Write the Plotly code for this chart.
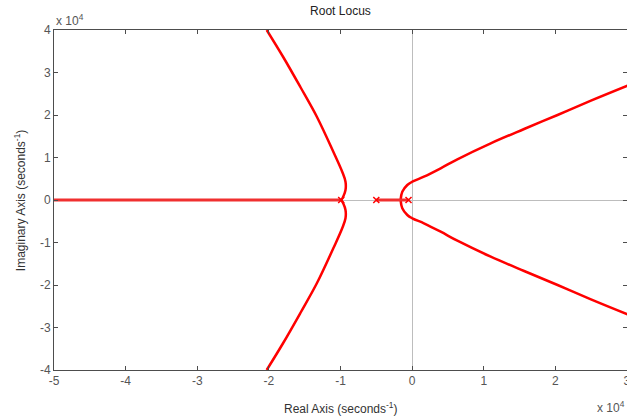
import plotly.graph_objects as go

# Values in units of 1e4 (seconds^-1)
upper_left_re = [-2.03, -1.80, -1.56, -1.33, -1.10, -0.976, -0.930, -0.930, -0.962, -0.99]
upper_left_im = [4.0, 3.365, 2.659, 1.96, 1.136, 0.666, 0.431, 0.235, 0.078, 0.0]

right_re = [-0.161, -0.137, -0.067, 0.003, 0.165, 0.399, 0.632, 1.098, 1.564, 2.031, 2.497, 3.01]
right_im = [0.0, 0.195, 0.353, 0.431, 0.548, 0.746, 0.958, 1.334, 1.671, 2.0, 2.336, 2.69]

real_axis_left = [-5.0, -0.99]
real_axis_mid = [-0.5, -0.05]

poles_re = [-0.99, -0.5, -0.05]
poles_im = [0.0, 0.0, 0.0]

x_ticks = [-5, -4, -3, -2, -1, 0, 1, 2, 3]
x_tick_labels = ["-5", "-4", "-3", "-2", "-1", "0", "1", "2", "3"]
y_ticks = [-4, -3, -2, -1, 0, 1, 2, 3, 4]
y_tick_labels = ["-4", "-3", "-2", "-1", "0", "1", "2", "3", "4"]

RED = "#ff0000"
fig = go.Figure()

def branch(re, im):
    fig.add_trace(go.Scatter(x=re, y=im, mode="lines", line=dict(color=RED, width=2.5, shape="spline"),
                             hoverinfo="skip", showlegend=False))

branch(upper_left_re, upper_left_im)
branch(upper_left_re, [-v for v in upper_left_im])
branch(right_re, right_im)
branch(right_re, [-v for v in right_im])
fig.add_trace(go.Scatter(x=real_axis_left, y=[0, 0], mode="lines", line=dict(color="#f03030", width=3),
                         showlegend=False))
fig.add_trace(go.Scatter(x=real_axis_mid, y=[0, 0], mode="lines", line=dict(color="#f03030", width=3),
                         showlegend=False))
fig.add_trace(go.Scatter(x=poles_re, y=poles_im, mode="markers",
                         marker=dict(symbol="x-thin", size=6, line=dict(color=RED, width=1.5)),
                         showlegend=False))

axis_common = dict(showgrid=False, showline=True, linecolor="#4d4d4d", linewidth=1, mirror="ticks",
                   ticks="inside", ticklen=4, tickcolor="#4d4d4d", automargin=False,
                   ticklabeloverflow="allow",
                   tickfont=dict(family="Liberation Sans, Arial", size=12, color="#555555"),
                   zeroline=True, zerolinecolor="#bdbdbd", zerolinewidth=1)

fig.update_layout(
    width=627, height=419,
    margin=dict(l=54, r=0, t=30, b=49),
    plot_bgcolor="white", paper_bgcolor="white",
    font=dict(family="Liberation Sans, Arial", size=12, color="#333333"),
    title=dict(text="Root Locus", x=0.543, xanchor="center", y=0.985, yanchor="top",
               automargin=False, font=dict(size=12, color="#222222")),
    xaxis=dict(range=[-5, 3.0005], tickvals=x_ticks, ticktext=x_tick_labels, **axis_common),
    yaxis=dict(range=[-4, 4], tickvals=y_ticks, ticktext=y_tick_labels, **axis_common),
    annotations=[
        dict(text="Real Axis (seconds<sup>-1</sup>)", xref="paper", yref="paper", x=0.5, y=-0.112,
             xanchor="center", yanchor="middle", showarrow=False,
             font=dict(size=12, color="#333333")),
        dict(text="Imaginary Axis (seconds<sup>-1</sup>)", xref="paper", yref="paper", x=-0.059, y=0.5,
             xanchor="center", yanchor="middle", textangle=-90, showarrow=False,
             font=dict(size=12, color="#333333")),
        dict(text="x 10<sup>4</sup>", xref="paper", yref="paper", x=0.0, y=1.0, xanchor="left",
             yanchor="bottom", showarrow=False, font=dict(size=12, color="#555555")),
        dict(text="x 10<sup>4</sup>", xref="paper", yref="paper", x=1.0, y=-0.08, xanchor="right",
             yanchor="top", showarrow=False, font=dict(size=12, color="#555555")),
    ],
)

fig.write_html("out.html", config={"displayModeBar": False},
               post_script="document.body.style.margin='0';")
